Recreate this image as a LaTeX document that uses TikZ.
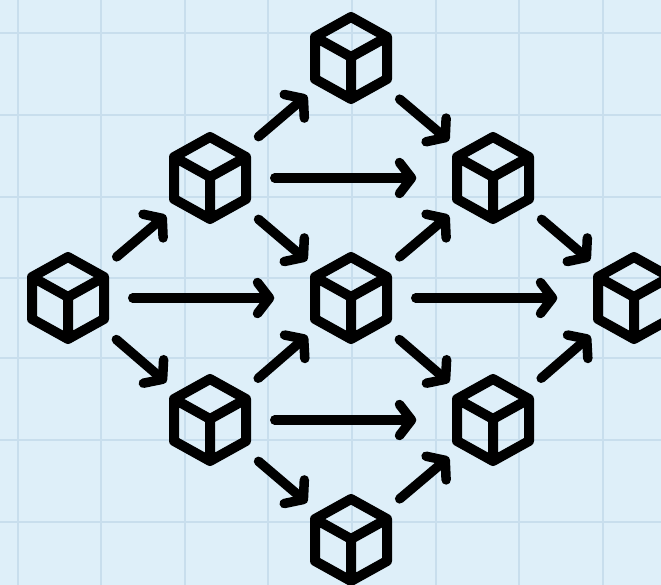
\documentclass[tikz,border=0pt]{standalone}
\usepackage{tikz}
\usetikzlibrary{arrows.meta}
\definecolor{paper}{HTML}{DEEFF9}
\definecolor{gridline}{HTML}{C8DEED}
\tikzset{
  cube/.style={circle, inner sep=0pt, minimum size=106pt, path picture={
    \draw[-, line width=10pt, line join=round, shift={(path picture bounding box.center)}]
      (0pt,-41pt) -- (-36pt,-21pt) -- (-36pt,21pt) -- (0pt,41pt) -- (36pt,21pt) -- (36pt,-21pt) -- cycle
      (-36pt,21pt) -- (0pt,1pt) -- (36pt,21pt)
      (0pt,1pt) -- (0pt,-41pt);
  }},
  link/.style={shorten <=6pt},
  long/.style={shorten >=19pt, shorten <=7pt}
}
\begin{document}
\begin{tikzpicture}[x=1pt, y=-1pt, line cap=round, line width=9.5pt,
    ->, >={Straight Barb[round, length=12pt, width=31pt]}]
  \useasboundingbox (0,0) rectangle (661,585);
  \clip (0,0) rectangle (661,585);
  \fill[paper] (0,0) rectangle (661,585);

  % grid
  \foreach \gx in {18,101,185,268,352,436,519,603}
    \draw[-, gridline, line width=1.5pt] (\gx,0) -- (\gx,585);
  \foreach \gy in {33,115,197,278,358,440,522}
    \draw[-, gridline, line width=1.5pt] (0,\gy) -- (661,\gy);

  \node[cube] (c0) at (68,298)  {};
  \node[cube] (c1) at (210,178) {};
  \node[cube] (c2) at (210,420) {};
  \node[cube] (c3) at (351,58)  {};
  \node[cube] (c4) at (351,298) {};
  \node[cube] (c5) at (351,540) {};
  \node[cube] (c6) at (493,178) {};
  \node[cube] (c7) at (493,420) {};
  \node[cube] (c8) at (634,298) {};

  % left half
  \path
    (c0) edge[link] (c1)
    (c0) edge[long] (c4)
    (c0) edge[link] (c2)
    (c1) edge[link] (c3)
    (c1) edge[long] (c6)
    (c1) edge[link] (c4)
    (c2) edge[link] (c4)
    (c2) edge[long] (c7)
    (c2) edge[link] (c5);
  % right half
  \path
    (c3) edge[link] (c6)
    (c4) edge[link] (c6)
    (c4) edge[long] (c8)
    (c4) edge[link] (c7)
    (c5) edge[link] (c7)
    (c6) edge[link] (c8)
    (c7) edge[link] (c8);
\end{tikzpicture}
\end{document}
